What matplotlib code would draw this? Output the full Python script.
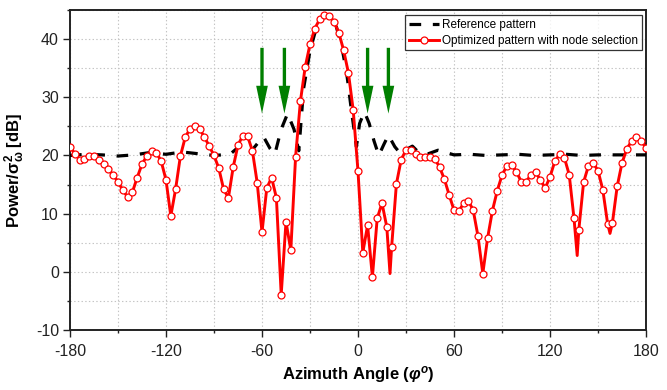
import numpy as np
import matplotlib
matplotlib.use("Agg")
import matplotlib.pyplot as plt
from matplotlib.patches import FancyArrowPatch
from matplotlib.ticker import MultipleLocator

# ---------------- data ----------------
# optimized pattern (markers every 3 degrees)
opt_angles = np.arange(-180, 181, 3)
opt_values = [
    21.5, 20.3, 19.3, 19.4, 19.9, 19.9, 19.2, 18.5, 17.6, 16.6,   # -180..-153
    15.5, 14.0, 12.9, 13.7, 16.2, 18.5, 19.9, 20.8, 20.5, 19.0,   # -150..-123
    15.8, 9.6, 14.2, 19.9, 23.1, 24.6, 25.0, 24.5, 23.2, 21.6,    # -120..-93
    20.0, 17.8, 14.2, 12.7, 18.0, 21.8, 23.4, 23.3, 20.8, 15.3,   # -90..-63
    6.8, 14.4, 16.2, 12.7, -3.9, 8.6, 3.7, 19.8,                  # -60..-39
    29.3, 35.2, 39.1, 41.8, 43.4, 44.1, 44.0, 43.0, 41.1, 38.1, 34.2, 27.8,  # -36..-3
    17.3, 3.3, 8.0, -0.9, 9.2, 11.8, 7.7, 4.2, 15.1, 19.3,        # 0..27
    20.9, 21.0, 20.3, 19.8, 19.8, 19.8, 19.4, 18.0, 15.9, 13.2,   # 30..57
    10.6, 10.4, 11.8, 12.2, 10.6, 6.1, -0.3, 5.8, 10.5, 13.9,     # 60..87
    16.6, 18.2, 18.4, 17.2, 15.5, 15.5, 16.6, 17.1, 15.8, 14.4,   # 90..117
    16.3, 19.0, 20.2, 19.6, 16.7, 9.2, 7.2, 15.4, 18.2, 18.7,     # 120..147
    17.4, 14.1, 8.3, 8.4, 14.7, 18.7, 21.1, 22.5, 23.1, 22.5,     # 150..177
    21.3,                                                         # 180
]
# deep nulls of the optimized curve that fall between markers
null_angles = [20.0, 137.0, 157.5]
null_values = [-0.3, 2.8, 6.6]

# reference pattern
ref_angles = [-180, -170, -160, -150, -140, -130, -120, -110, -100, -90, -80,
              -74, -68, -63, -59, -55, -52, -48, -44, -40, -37, -34, -30, -26,
              -22, -18, -14, -10, -7, -4, -1, 1, 4, 7, 10, 13, 16, 19, 23, 26,
              30, 34, 38, 44, 50, 60, 70, 80, 90, 100, 110, 120, 130, 140, 150,
              160, 170, 180]
ref_values = [20.0, 20.2, 20.1, 19.9, 20.1, 20.5, 20.2, 20.6, 20.3, 20.0, 20.2,
              21.6, 20.3, 22.0, 23.2, 21.2, 20.2, 24.5, 27.2, 24.5, 20.8, 31.5, 38.0, 42.0,
              43.8, 44.0, 42.6, 38.5, 34.0, 27.5, 21.5, 25.5, 27.5, 25.5, 22.5, 20.0, 21.8, 23.5, 21.5, 20.5,
              21.0, 21.6, 20.5, 20.3, 20.9, 20.1, 20.2, 20.0, 20.1, 20.2, 20.0, 20.1, 20.2, 20.0, 20.1,
              20.1, 20.1, 20.1]

# interference directions marked by arrows
arrow_angles = [-60, -46, 6, 19]

x_ticks = [-180, -120, -60, 0, 60, 120, 180]
y_ticks = [-10, 0, 10, 20, 30, 40]

# ---------------- style ----------------
plt.rcParams['font.family'] = ['Liberation Sans', 'DejaVu Sans']
plt.rcParams['mathtext.fontset'] = 'custom'
plt.rcParams['mathtext.rm'] = 'Liberation Sans'
plt.rcParams['mathtext.it'] = 'Liberation Sans:italic'
plt.rcParams['mathtext.bf'] = 'Liberation Sans:bold'
plt.rcParams['mathtext.bfit'] = 'Liberation Sans:italic:bold'
plt.rcParams['lines.scale_dashes'] = False

fig = plt.figure(figsize=(6.67, 3.90), dpi=100)
ax = fig.add_axes([70 / 667, 60 / 390, 576 / 667, 320 / 390])

# reference (dashed)
ax.plot(ref_angles, ref_values, color='black', lw=2.3, dashes=(8.4, 8.4),
        label='Reference pattern', zorder=3)

# optimized (line through markers + nulls)
all_x = np.concatenate([opt_angles, np.array(null_angles)])
all_y = np.concatenate([np.array(opt_values), np.array(null_values)])
is_marker = np.concatenate([np.ones(len(opt_angles), bool), np.zeros(len(null_angles), bool)])
order = np.argsort(all_x, kind='stable')
line_x, line_y, mk = all_x[order], all_y[order], is_marker[order]
ax.plot(line_x, line_y, color='#ff0000', lw=2.1, marker='o', markersize=5.0,
        markerfacecolor='white', markeredgecolor='#ff0000', markeredgewidth=0.9,
        markevery=list(np.nonzero(mk)[0]), label='Optimized pattern with node selection',
        zorder=4)

# arrows
for a in arrow_angles:
    arr = FancyArrowPatch((a, 38.5), (a, 27.2),
                          arrowstyle='simple,head_length=20,head_width=8.4,tail_width=2.4',
                          mutation_scale=1, shrinkA=0, shrinkB=0,
                          color='#007f00', lw=0, zorder=5)
    ax.add_patch(arr)

ax.set_xlim(-180, 180)
ax.set_ylim(-10, 45)
ax.set_xticks(x_ticks)
ax.set_yticks(y_ticks)
ax.xaxis.set_minor_locator(MultipleLocator(30))
ax.yaxis.set_minor_locator(MultipleLocator(5))
ax.tick_params(which='major', direction='out', length=5, width=1.0,
               labelsize=11.5, pad=3, colors='#222222', labelcolor='#222222')
ax.tick_params(which='minor', direction='out', length=2.5, width=1.0, colors='#222222')
ax.tick_params(axis='x', which='major', pad=5)
ax.set_xticklabels([str(t) for t in x_ticks])
ax.set_yticklabels([str(t) for t in y_ticks])
ax.grid(which='both', linestyle=':', color='#c4c4c4', linewidth=0.8)
ax.set_axisbelow(True)
for s in ax.spines.values():
    s.set_linewidth(1.4)
    s.set_color('#222222')

ax.set_xlabel(r'Azimuth Angle ($\mathbfit{\varphi^o}$)', fontsize=12, fontweight='bold', labelpad=4)
ax.set_ylabel(r'Power/$\mathbf{\sigma^2_\omega}$ [dB]', fontsize=12, fontweight='bold', labelpad=6)

leg = ax.legend(loc='upper right', bbox_to_anchor=(0.993, 0.984), borderaxespad=0,
                fontsize=8.5, frameon=True, fancybox=False, handlelength=2.6,
                handletextpad=0.25, labelspacing=0.35, borderpad=0.3)
leg.get_frame().set_edgecolor('black')
leg.get_frame().set_linewidth(0.9)

fig.savefig('out.png', dpi=100)
